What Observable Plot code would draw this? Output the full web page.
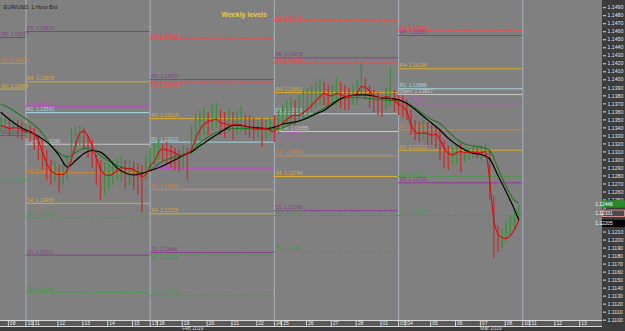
<!DOCTYPE html>
<html><head><meta charset="utf-8">
<script src="https://cdn.jsdelivr.net/npm/d3@7"></script>
<script src="https://cdn.jsdelivr.net/npm/@observablehq/plot@0.6"></script>
<style>
html,body{margin:0;padding:0;background:#3c3c3c;}
#wrap{position:relative;width:625px;height:331px;overflow:hidden;background:#3c3c3c;}
#plotbg{position:absolute;left:0;top:0;width:602px;height:320px;background:#808080;}
#strip{position:absolute;left:0;top:320px;width:602px;height:5px;border-top:1px solid #d8d8d8;border-bottom:1px solid #d8d8d8;background:#595959;}
#chart{position:absolute;left:0;top:0;}
</style></head><body>
<div id="wrap"><div id="plotbg"></div><div id="strip"></div><div id="chart"></div></div>
<script>
// ---- data ----
const xDomain = [-24.6, 557];           // hourly bar index visible range
const yDomain = [1.10996, 1.1499];
const weekStart = [-144, 0, 120, 240, 360];
const weekEnd   = [0, 120, 240, 360, 480];
const separatorBar = [0, 120, 240, 360, 480];

const dayTickBar   = [-17, 0, 7, 31, 55, 79, 103, 120, 127, 151, 175, 199, 223, 240, 247, 271, 295, 319, 343, 360, 367, 391, 415, 439, 463, 480, 487, 511, 535];
const dayTickLabel = ["08","10","11","12","13","14","15","17","18","19","20","21","22","24","25","26","27","28","01","03","04","05","06","07","08","10","11","12","13"];
const monthBar = [151, 439];
const monthLabel = ["Feb 2019", "Mar 2019"];

const priceTicks = [1.1100,1.1110,1.1120,1.1130,1.1140,1.1150,1.1160,1.1170,1.1180,1.1190,1.1200,1.1210,1.1220,1.1230,1.1240,1.1250,1.1260,1.1270,1.1280,1.1290,1.1300,1.1310,1.1320,1.1330,1.1340,1.1350,1.1360,1.1370,1.1380,1.1390,1.1400,1.1410,1.1420,1.1430,1.1440,1.1450,1.1460,1.1470,1.1480,1.1490];
const hiddenTickLabels = [1.1220, 1.1230, 1.1240];   // covered by the value boxes

// weekly levels
const levelWeek  = [0,0,0,0,0, 1,1,1,1,1,1,1,1,1,1, 2,2,2,2,2,2,2,2,2,2,2, 3,3,3,3,3,3,3,3,3,3,3,3, 4,4,4,4,4,4,4,4,4,4,4];
const levelName  = ["R5","S1","S4","S5","S3",
  "R5","R4","P","R1","Open","S1","S4","S2","S5","S3",
  "R3","R5","R2","R4","R1","P","S1","S4","S5","S2","S3",
  "R3","R5","R2","R4","R1","Open","P","S1","S4","S5","S2","S3",
  "R3","R5","R4","R1","Open","P","S1","S4","S2","S5","S3"];
const levelValue = [1.14527,1.14205,1.13884,1.13304,1.12707,
  1.14603,1.13975,1.13672,1.13591,1.13196,1.12840,1.12458,1.12278,1.11811,1.11348,
  1.14513,1.14003,1.13970,1.13516,1.13222,1.12897,1.12630,1.12328,1.11845,1.11816,1.11305,
  1.14740,1.14275,1.14212,1.13842,1.13576,1.13355,1.13277,1.13052,1.12794,1.12366,1.12307,1.11858,
  1.14616,1.14553,1.14138,1.13888,1.13817,1.13701,1.13376,1.13122,1.12794,1.12715,1.12307];

// hourly price bars grouped by 4 hours (high / low), first group at bar -24
const candleFirstBar = -24, candleStep = 4;
const candleHigh = [1.13530,1.13517,1.13492,1.13517,1.13492,1.13467,1.13455,1.13430,1.13393,1.13305,1.13243,1.13118,1.12993,1.12968,1.12931,1.12956,1.13056,1.13393,1.13405,1.13430,1.13393,1.13305,1.13243,1.13056,1.12993,1.12968,1.12956,1.12993,1.13018,1.13056,1.12993,1.12993,1.12968,1.12956,1.12931,1.13056,1.13143,1.13205,1.13243,1.13205,1.13218,1.13180,1.13143,1.13118,1.13180,1.13143,1.13430,1.13580,1.13617,1.13642,1.13592,1.13680,1.13705,1.13617,1.13592,1.13642,1.13592,1.13617,1.13667,1.13555,1.13555,1.13517,1.13492,1.13517,1.13492,1.13517,1.13555,1.13617,1.13680,1.13742,1.13767,1.13742,1.13804,1.13867,1.13892,1.13929,1.13967,1.14017,1.13967,1.13929,1.13929,1.14017,1.13967,1.13929,1.13892,1.13929,1.13992,1.14204,1.14017,1.13929,1.13867,1.13842,1.13804,1.13892,1.14141,1.13867,1.13804,1.13804,1.13742,1.13617,1.13492,1.13467,1.13492,1.13467,1.13430,1.13430,1.13368,1.13243,1.13180,1.13143,1.13180,1.13205,1.13143,1.13143,1.13155,1.13143,1.13180,1.13205,1.13118,1.12556,1.12182,1.12144,1.12219,1.12307,1.12369,1.12432];
const candleLow  = [1.13330,1.13343,1.13293,1.13305,1.13268,1.13243,1.13268,1.13218,1.13118,1.12993,1.12868,1.12744,1.12681,1.12719,1.12581,1.12681,1.12744,1.12931,1.13118,1.13180,1.13118,1.13018,1.12894,1.12681,1.12494,1.12556,1.12619,1.12681,1.12744,1.12719,1.12644,1.12681,1.12619,1.12556,1.12344,1.12744,1.12843,1.12931,1.12993,1.12968,1.12931,1.12894,1.12868,1.12843,1.12868,1.12744,1.13056,1.13180,1.13243,1.13305,1.13305,1.13368,1.13393,1.13305,1.13268,1.13343,1.13243,1.13305,1.13343,1.13305,1.13268,1.13243,1.13268,1.13155,1.13243,1.13305,1.13218,1.13305,1.13368,1.13430,1.13467,1.13430,1.13492,1.13517,1.13555,1.13592,1.13642,1.13680,1.13680,1.13642,1.13680,1.13680,1.13642,1.13617,1.13617,1.13680,1.13680,1.13804,1.13742,1.13642,1.13592,1.13555,1.13530,1.13617,1.13680,1.13592,1.13555,1.13517,1.13492,1.13305,1.13243,1.13218,1.13243,1.13180,1.13180,1.13143,1.12993,1.12894,1.12868,1.12931,1.12931,1.12843,1.12968,1.12993,1.13018,1.13018,1.12993,1.13018,1.12494,1.11770,1.11845,1.11895,1.11970,1.12057,1.12144,1.12219];

// fast moving average (red), same 4-hour spacing
const redMA = [1.13428,1.13411,1.13393,1.13401,1.13399,1.13374,1.13349,1.13365,1.13320,1.13243,1.13094,1.12957,1.12866,1.12831,1.12819,1.12821,1.12882,1.13014,1.13184,1.13335,1.13360,1.13289,1.13174,1.13026,1.12890,1.12819,1.12806,1.12825,1.12868,1.12906,1.12890,1.12896,1.12881,1.12837,1.12790,1.12821,1.12927,1.12981,1.13091,1.13140,1.13122,1.13106,1.13088,1.13056,1.13053,1.13079,1.13129,1.13272,1.13373,1.13443,1.13481,1.13496,1.13511,1.13464,1.13454,1.13436,1.13440,1.13449,1.13436,1.13423,1.13411,1.13396,1.13389,1.13390,1.13395,1.13368,1.13351,1.13411,1.13464,1.13502,1.13545,1.13555,1.13555,1.13592,1.13630,1.13683,1.13735,1.13786,1.13833,1.13808,1.13801,1.13831,1.13817,1.13793,1.13793,1.13807,1.13834,1.13917,1.13904,1.13861,1.13793,1.13781,1.13776,1.13791,1.13774,1.13738,1.13695,1.13661,1.13605,1.13443,1.13349,1.13330,1.13338,1.13329,1.13310,1.13320,1.13252,1.13153,1.13083,1.13062,1.13091,1.13106,1.13089,1.13099,1.13097,1.13087,1.13092,1.13107,1.12744,1.12244,1.12076,1.12029,1.12021,1.12057,1.12132,1.12244];

// slower averages, read every 8 bars
const slowBar = [-24,-16,-8,0,8,16,24,32,40,48,56,64,72,80,88,96,104,112,120,128,136,144,152,160,168,176,184,192,200,208,216,224,232,240,248,256,264,272,280,288,296,304,312,320,328,336,344,352,360,368,376,384,392,400,408,416,424,432,440,448,456,464,472,476];
const greenMA = [1.13698,1.13648,1.13580,1.13511,1.13436,1.13330,1.13180,1.13087,1.13037,1.13093,1.13145,1.13130,1.13056,1.12987,1.12931,1.12900,1.12875,1.12837,1.12866,1.12952,1.13003,1.13037,1.13068,1.13112,1.13214,1.13286,1.13343,1.13376,1.13390,1.13396,1.13390,1.13383,1.13383,1.13389,1.13399,1.13449,1.13485,1.13536,1.13588,1.13642,1.13711,1.13763,1.13777,1.13779,1.13773,1.13761,1.13749,1.13743,1.13736,1.13711,1.13648,1.13572,1.13506,1.13454,1.13355,1.13262,1.13199,1.13176,1.13158,1.13118,1.12893,1.12669,1.12494,1.12463];
const blackMA = [1.13592,1.13505,1.13430,1.13374,1.13324,1.13262,1.13180,1.13056,1.12912,1.12993,1.13081,1.13118,1.13097,1.13012,1.12900,1.12837,1.12812,1.12831,1.12868,1.12902,1.12949,1.13002,1.13056,1.13102,1.13176,1.13245,1.13313,1.13380,1.13430,1.13430,1.13411,1.13399,1.13390,1.13409,1.13446,1.13465,1.13486,1.13524,1.13574,1.13617,1.13692,1.13763,1.13798,1.13813,1.13813,1.13796,1.13773,1.13767,1.13751,1.13705,1.13630,1.13542,1.13459,1.13373,1.13270,1.13190,1.13127,1.13081,1.13068,1.13012,1.12806,1.12601,1.12382,1.12257];

// value boxes on the price axis
const boxValue = [1.12446, 1.12331, 1.12205];
const boxText  = ["1.12446", "1.12331", "1.12205"];
const boxFill  = ["#2b8a2b", "#4b4b4b", "#000000"];
const boxStroke= ["#2b8a2b", "#f0a0a0", "#000000"];

// ---- styles ----
const levelStyle = {
  R3:{c:"#ff3c3c",d:"3,2"}, R2:{c:"#ff3c3c",d:"3,2"},
  R5:{c:"#8c3d90",d:null}, S5:{c:"#8c3d90",d:null},
  R4:{c:"#d6ae2e",d:null}, S4:{c:"#d6ae2e",d:null},
  R1:{c:"#a6d3e4",d:null}, Open:{c:"#c8c8c8",d:null},
  P:{c:"#cc46cc",d:null}, S1:{c:"#d8892c",d:null},
  S2:{c:"#3e9e3e",d:"3,2"}, S3:{c:"#3e9e3e",d:"3,2"}
};

// ---- build tables ----
const levels = levelValue.map((v,i)=>({value:v, name:levelName[i], week:levelWeek[i], start:weekStart[levelWeek[i]], end:weekEnd[levelWeek[i]]}));
// a label whose line sits just under another line of the same week goes below its line
levels.forEach(d=>{ d.below = levels.some(o=>o!==d && o.week===d.week && o.value>d.value && o.value-d.value<0.0005); });
const candles = candleHigh.map((h,i)=>({bar:candleFirstBar+i*candleStep, hi:h, lo:candleLow[i]}));
candles.forEach((c,i)=>{ const m=(c.hi+c.lo)/2; const pm = i? (candles[i-1].hi+candles[i-1].lo)/2 : m; c.up = m>=pm; });
const redLine = redMA.map((v,i)=>({bar:candleFirstBar+i*candleStep, v}));
const greenLine = greenMA.map((v,i)=>({bar:slowBar[i], v}));
const blackLine = blackMA.map((v,i)=>({bar:slowBar[i], v}));
const dashed = levels.filter(d=>levelStyle[d.name].d);
const solid = levels.filter(d=>!levelStyle[d.name].d);
const labelOpts = {x:d=>Math.max(d.start, xDomain[0]), y:"value", text:d=>`${d.name}: ${d.value.toFixed(5)}`,
      textAnchor:"start", dx:1, fontSize:5, fill:d=>levelStyle[d.name].c, clip:true};

const plot = Plot.plot({
  width: 625, height: 331,
  marginTop: 0, marginBottom: 11, marginLeft: 0, marginRight: 23,
  style: {background:"transparent", color:"#e2e2e2", fontFamily:"Liberation Sans, Arial, sans-serif", overflow:"visible"},
  x: {domain: xDomain, axis: null},
  y: {domain: yDomain, axis: null},
  marks: [
    Plot.ruleX(separatorBar, {stroke:"#a7b3c2", strokeWidth:1}),
    Plot.ruleY(solid, {y:"value", x1:"start", x2:"end", stroke:d=>levelStyle[d.name].c, strokeWidth:1, clip:true}),
    Plot.ruleY(dashed, {y:"value", x1:"start", x2:"end", stroke:d=>levelStyle[d.name].c, strokeWidth:1, strokeDasharray:"3,2", clip:true}),
    Plot.text(levels.filter(d=>!d.below), {...labelOpts, dy:-3}),
    Plot.text(levels.filter(d=>d.below), {...labelOpts, dy:3.5}),
    Plot.ruleX(candles, {x:"bar", y1:"lo", y2:"hi", stroke:d=>d.up?"#3d8f3d":"#c23434", strokeWidth:1.4, clip:true}),
    Plot.line(greenLine, {x:"bar", y:"v", stroke:"#1f7a1f", strokeWidth:1.1, curve:"monotone-x", clip:true}),
    Plot.line(blackLine, {x:"bar", y:"v", stroke:"#000000", strokeWidth:1.2, curve:"monotone-x", clip:true}),
    Plot.line(redLine, {x:"bar", y:"v", stroke:"#dc0a0a", strokeWidth:1.1, curve:"monotone-x", clip:true}),
    Plot.axisY(priceTicks, {anchor:"right", tickSize:3, tickPadding:2, text:null}),
    Plot.axisY(priceTicks.filter(t=>!hiddenTickLabels.includes(t)), {anchor:"right", tickSize:0, tickPadding:5, tickFormat:d=>d.toFixed(4), fontSize:5.2}),
    Plot.axisX(dayTickBar, {anchor:"bottom", tickSize:6, text:null, stroke:"#d8d8d8"}),
    Plot.text(dayTickBar, {x:d=>d, text:(d,i)=>dayTickLabel[i], frameAnchor:"bottom", dy:4, dx:1.5, textAnchor:"start", fontSize:5, fill:"#f0f0f0"}),
    Plot.text(monthBar, {x:d=>d, text:(d,i)=>monthLabel[i], frameAnchor:"bottom", dy:9.5, textAnchor:"start", fontSize:5, fill:"#d8d8d8"}),
    Plot.text(["EUR/USD, 1 Hour Bid"], {frameAnchor:"top-left", dx:3, dy:5, textAnchor:"start", fontSize:5.5, fill:"#222222"}),
    Plot.text(["Weekly levels"], {frameAnchor:"top-left", dx:221, dy:12, fontSize:7, fontWeight:"bold", fill:"#e8c94a"})
  ]
});
document.getElementById("chart").appendChild(plot);

// value boxes drawn through the plot's y scale
const ys = plot.scale("y");
const svg = d3.select(plot);
const g = svg.append("g");
boxValue.forEach((v,i)=>{
  const yy = ys.apply(v);
  g.append("rect").attr("x",602.5).attr("y",yy-3).attr("width",22).attr("height",6.4)
    .attr("fill",boxFill[i]).attr("stroke",boxStroke[i]).attr("stroke-width",0.8);
  g.append("text").attr("x",604).attr("y",yy+0.3).attr("dy","0.35em").attr("font-size",4.8)
    .attr("font-family","Liberation Sans, Arial, sans-serif")
    .attr("fill","#ffffff").text(boxText[i]);
});
</script>
</body></html>
